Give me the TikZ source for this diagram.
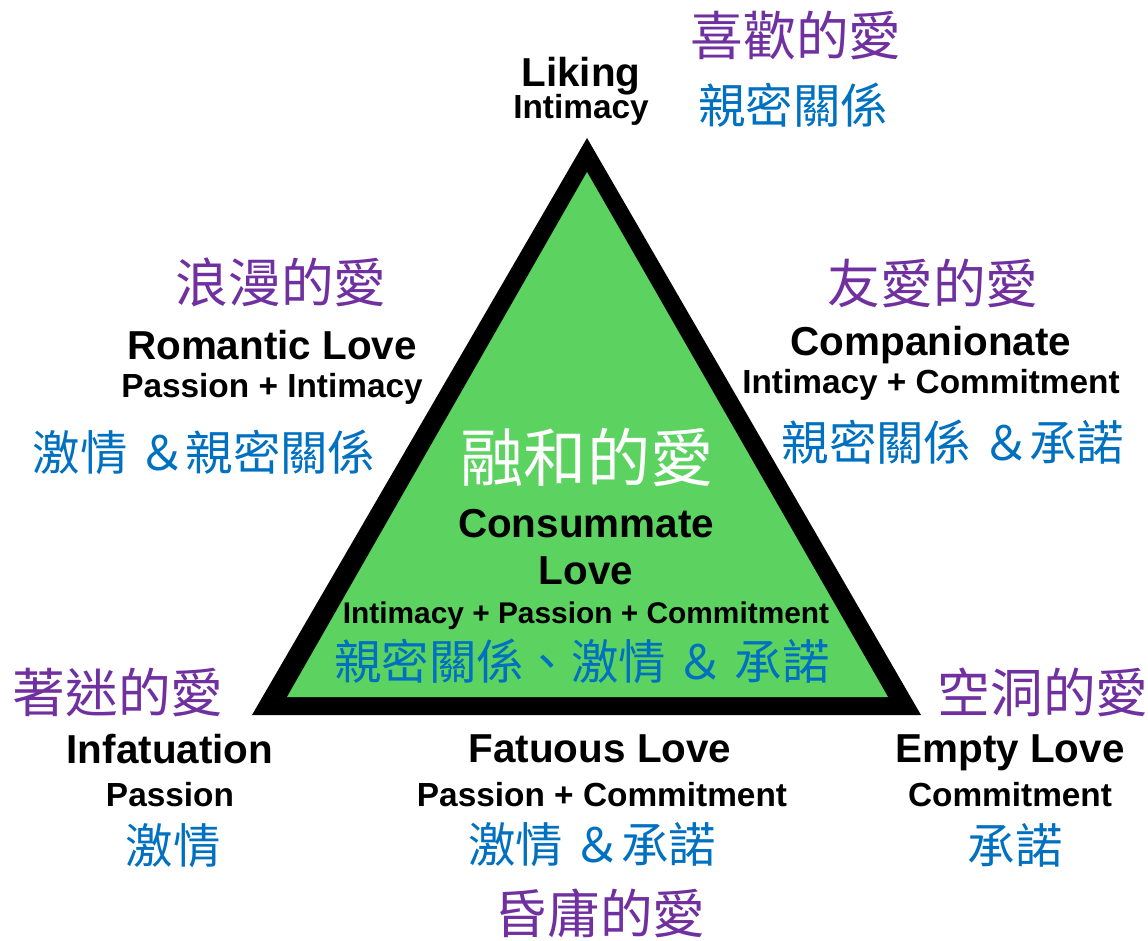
\documentclass[tikz,border=0pt]{standalone}
\usepackage{fontspec}
\setmainfont{Liberation Sans}
\newfontfamily\cjk{Noto Sans CJK TC}
\definecolor{zhpurple}{RGB}{112,48,160}
\definecolor{zhblue}{RGB}{0,112,192}
\definecolor{lovegreen}{RGB}{92,210,96}
\begin{document}
\begin{tikzpicture}[x=0.02cm, y=-0.02cm,
    title/.style={inner sep=0pt, font=\bfseries\fontsize{23}{26}\selectfont},
    sub/.style={inner sep=0pt, font=\bfseries\fontsize{19}{22}\selectfont},
    zhp/.style={inner sep=0pt, text=zhpurple, font=\cjk\fontsize{30}{33}\selectfont},
    zhb/.style={inner sep=0pt, text=zhblue, font=\cjk\fontsize{27}{30}\selectfont}]
      \useasboundingbox (0,0) rectangle (1148,940);

      % Triangle
      \fill[black] (587,138) -- (252,715) -- (921,715) -- cycle;
      \fill[lovegreen] (587,172) -- (287,697) -- (888,697) -- cycle;

      % Top: Liking
      \node[title] (liking) at (581,76) {Liking};
      \node[sub] (likingsub) at (581,110) {Intimacy};
      \node[zhp] (likingzh) at (796,35) {喜歡的愛};
      \node[zhb] (likingzhb) at (793,105) {親密關係};

      % Left: Romantic Love
      \node[zhp] (romzh) at (281,282) {浪漫的愛};
      \node[title] (rom) at (272,345) {Romantic Love};
      \node[sub] (romsub) at (272,389) {Passion + Intimacy};
      \node[zhb] (romzhb) at (204,452) {激情 ＆親密關係};

      % Right: Companionate
      \node[zhp] (compzh) at (933,283) {友愛的愛};
      \node[title] (comp) at (931,345) {Companionate};
      \node[sub] (compsub) at (931,385) {Intimacy + Commitment};
      \node[zhb] (compzhb) at (953,442) {親密關係 ＆承諾};

      % Centre: Consummate Love
      \node[zhp, text=white, font=\cjk\fontsize{36}{39}\selectfont] (conszh) at (587,457) {融和的愛};
      \node[title] (cons) at (586,524) {Consummate};
      \node[title] (conslove) at (586,571) {Love};
      \node[sub, font=\bfseries\fontsize{17}{20}\selectfont] (conssub) at (586,616) {Intimacy + Passion + Commitment};
      \node[zhb] (conszhb) at (582,661) {親密關係、激情 ＆ 承諾};

      % Bottom left: Infatuation
      \node[zhp] (infzh) at (118,692) {著迷的愛};
      \node[title] (inf) at (170,749) {Infatuation};
      \node[sub] (infsub) at (170,795) {Passion};
      \node[zhb] (infzhb) at (173,846) {激情};

      % Bottom: Fatuous Love
      \node[title] (fat) at (600,749) {Fatuous Love};
      \node[sub] (fatsub) at (602,795) {Passion + Commitment};
      \node[zhb] (fatzhb) at (592,845) {激情 ＆承諾};
      \node[zhp] (fatzh) at (600,913) {昏庸的愛};

      % Bottom right: Empty Love
      \node[zhp] (empzh) at (1043,692) {空洞的愛};
      \node[title] (emp) at (1010,753) {Empty Love};
      \node[sub] (empsub) at (1010,795) {Commitment};
      \node[zhb] (empzhb) at (1015,845) {承諾};
\end{tikzpicture}
\end{document}
